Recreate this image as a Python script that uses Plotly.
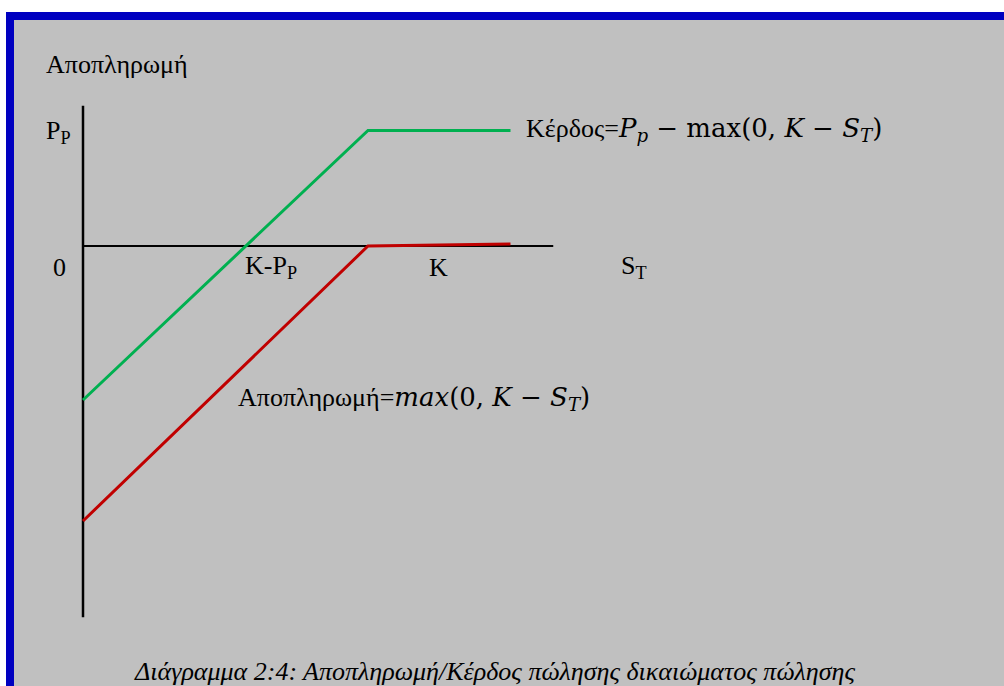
import plotly.graph_objects as go

# Short put position: strike K = 10, premium received ≈ 4.2 (units of S_T)
S_T = [0, 10, 15]
profit = [-5.6, 4.2, 4.2]          # Κέρδος = P_p − max(0, K − S_T)
payoff = [-10.0, 0.0, 0.07]        # Αποπληρωμή (writer's side)

axis_x = [0, 16.5]                 # horizontal S_T axis extent
axis_y = [5.1, -13.5]              # vertical payoff axis extent

W, H = 1004, 686
PX_X, PX_Y = 28.5, 27.5            # pixels per unit
X0, Y0 = 83, 246                   # origin in pixels

xmin = -X0 / PX_X
xmax = xmin + W / PX_X
ymax = Y0 / PX_Y
ymin = ymax - H / PX_Y

SERIF = "Liberation Serif"
MATH = "DejaVu Serif"
GREEN = "#00B050"
RED = "#C00000"

fig = go.Figure()

# axes drawn as plain black lines
fig.add_trace(go.Scatter(x=axis_x, y=[0, 0], mode="lines",
                         line=dict(color="black", width=2), hoverinfo="skip"))
fig.add_trace(go.Scatter(x=[0, 0], y=axis_y, mode="lines",
                         line=dict(color="black", width=2.5), hoverinfo="skip"))

fig.add_trace(go.Scatter(x=S_T, y=profit, mode="lines",
                         line=dict(color=GREEN, width=3), name="Κέρδος"))
fig.add_trace(go.Scatter(x=S_T, y=payoff, mode="lines",
                         line=dict(color=RED, width=3), name="Αποπληρωμή"))


def fx(px):
    return px / W


def fy(py):
    return 1 - py / H


# frame: white edge, blue border, grey panel
shapes = [
    dict(type="rect", xref="paper", yref="paper", x0=0, x1=1, y0=0, y1=1,
         fillcolor="white", line=dict(width=0), layer="below"),
    dict(type="rect", xref="paper", yref="paper", x0=fx(6), x1=1.01, y0=-0.01, y1=fy(12),
         fillcolor="#0000C0", line=dict(width=0), layer="below"),
    dict(type="rect", xref="paper", yref="paper", x0=fx(14), x1=1.01, y0=-0.01, y1=fy(20),
         fillcolor="#C0C0C0", line=dict(width=0), layer="below"),
]


def label(text, x, y, size=26, italic=False):
    return dict(text=text, xref="paper", yref="paper", x=fx(x), y=fy(y),
                xanchor="left", yanchor="middle", showarrow=False,
                font=dict(family=SERIF, size=size, color="black",
                          style="italic" if italic else "normal"))


def math(s):
    return f"<span style='font-family:{MATH};font-size:26px'>{s}</span>"


annotations = [
    label("Αποπληρωμή", 44, 65),
    label("P<sub>P</sub>", 44, 132),
    label("0", 51, 267),
    label("K-P<sub>P</sub>", 243, 267),
    label("K", 427, 267),
    label("S<sub>T</sub>", 619, 267),
    label("Κέρδος=" + math("<i>P<sub>p</sub></i> − max(0, <i>K</i> − <i>S<sub>T</sub></i>)"), 524, 130),
    label("Αποπληρωμή=" + math("<i>max</i>(0, <i>K</i> − <i>S<sub>T</sub></i>)"), 236, 398),
    label("Διάγραμμα 2:4: Αποπληρωμή/Κέρδος πώλησης δικαιώματος πώλησης", 132, 671,
          italic=True),
]

fig.update_layout(
    width=W, height=H,
    margin=dict(l=0, r=0, t=0, b=0),
    paper_bgcolor="white", plot_bgcolor="rgba(0,0,0,0)",
    showlegend=False,
    xaxis=dict(range=[xmin, xmax], visible=False, fixedrange=True),
    yaxis=dict(range=[ymin, ymax], visible=False, fixedrange=True),
    shapes=shapes,
    annotations=annotations,
)

fig.write_html("out.html")
